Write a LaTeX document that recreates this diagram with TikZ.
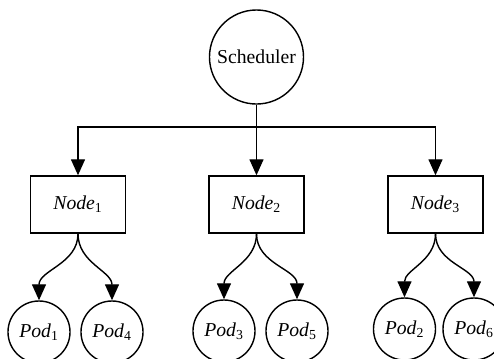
\documentclass[tikz,border=0pt]{standalone}
\usepackage{fontspec}
\setmainfont{Liberation Serif}
\usetikzlibrary{arrows.meta}

\begin{document}
\begin{tikzpicture}[x=0.025cm, y=-0.025cm, line width=1pt,
    every node/.style={font=\fontsize{14}{16}\selectfont},
    sched/.style={draw, circle, minimum size=2.35cm, inner sep=0pt},
    worker/.style={draw, rectangle, minimum width=2.375cm, minimum height=1.425cm, inner sep=0pt},
    pod/.style={draw, circle, minimum size=1.55cm, inner sep=0pt},
    tip/.style={-{Triangle[length=0.4cm, width=0.35cm]}}]
    \clip (0, 0) rectangle (494, 358);

    % scheduler on top, one box per worker node
    \node[sched] (sched) at (256.5, 57) {Scheduler};
    \node[worker] (n1) at (78, 204.5) {\textit{Node}\textsubscript{1}};
    \node[worker] (n2) at (256.5, 204.5) {\textit{Node}\textsubscript{2}};
    \node[worker] (n3) at (435.5, 204.5) {\textit{Node}\textsubscript{3}};

    % pods placed on each node
    \node[pod] (p1) at (39, 332) {\textit{Pod}\textsubscript{1}};
    \node[pod] (p4) at (112, 332) {\textit{Pod}\textsubscript{4}};
    \node[pod] (p3) at (224, 331) {\textit{Pod}\textsubscript{3}};
    \node[pod] (p5) at (297, 331) {\textit{Pod}\textsubscript{5}};
    \node[pod] (p2) at (404.5, 329) {\textit{Pod}\textsubscript{2}};
    \node[pod] (p6) at (474, 329) {\textit{Pod}\textsubscript{6}};

    \coordinate (bar) at (256.5, 127);
    \draw[tip] (sched) -- (n2);
    \draw[tip] (bar) -| (n1.north);
    \draw[tip] (bar) -| (n3.north);

    \draw[tip] (n1.south) to[out=-90, in=90] (p1.north);
    \draw[tip] (n1.south) to[out=-90, in=90] (p4.north);
    \draw[tip] (n2.south) to[out=-90, in=90] (p3.north);
    \draw[tip] (n2.south) to[out=-90, in=90] (p5.north);
    \draw[tip] (n3.south) to[out=-90, in=90] (p2.north);
    \draw[tip] (n3.south) to[out=-90, in=90] (p6.north);
  \end{tikzpicture}
\end{document}
